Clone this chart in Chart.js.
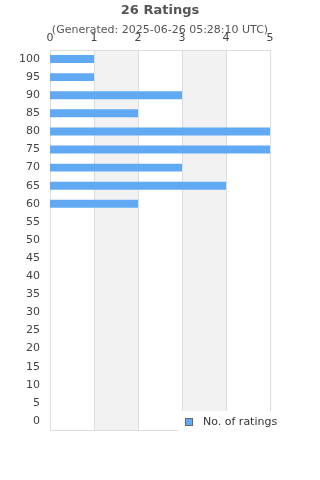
<!DOCTYPE html>
<html><head><meta charset="utf-8">
<script src="https://cdn.jsdelivr.net/npm/chart.js@4/dist/chart.umd.min.js"></script>
<style>html,body{margin:0;padding:0;background:#fff}#wrap{width:320px;height:480px}</style>
</head><body><div id="wrap"><canvas id="c" width="320" height="480"></canvas></div>
<script>
const titleText = "26 Ratings";
const subtitleText = "(Generated: 2025-06-26 05:28:10 UTC)";
const categories = ["100","95","90","85","80","75","70","65","60","55","50","45","40","35","30","25","20","15","10","5","0"];
const ratings = [1,1,3,2,5,5,3,4,2,0,0,0,0,0,0,0,0,0,0,0,0];
const seriesName = "No. of ratings";
const xTicks = [0,1,2,3,4,5];
const shadedBands = [[1,2],[3,4]];

const FONT = "'DejaVu Sans', sans-serif";
const barColor = "#62a9f4";

const deco = {
  id: 'deco',
  beforeDatasetsDraw(chart) {
    const {ctx, chartArea: a, scales: {x}} = chart;
    ctx.save();
    ctx.fillStyle = '#f2f2f2';
    shadedBands.forEach(([s,e]) => {
      const x0 = x.getPixelForValue(s), x1 = x.getPixelForValue(e);
      ctx.fillRect(x0, a.top, x1 - x0, a.bottom - a.top);
    });
    ctx.strokeStyle = '#dddddd';
    ctx.lineWidth = 1;
    xTicks.forEach(v => {
      const px = Math.round(x.getPixelForValue(v)) + 0.5;
      ctx.beginPath(); ctx.moveTo(px, a.top); ctx.lineTo(px, a.bottom); ctx.stroke();
    });
    ctx.strokeRect(Math.round(a.left)+0.5, Math.round(a.top)+0.5, Math.round(a.right-a.left), Math.round(a.bottom-a.top));
    ctx.restore();
  },
  afterDraw(chart) {
    const {ctx} = chart;
    ctx.save();
    ctx.fillStyle = '#555';
    ctx.textAlign = 'center';
    ctx.textBaseline = 'middle';
    ctx.font = "bold 13px " + FONT;
    ctx.fillText(titleText, 160, 11);
    ctx.font = "11px " + FONT;
    ctx.fillText(subtitleText, 160, 30);
    // legend
    ctx.fillStyle = '#fff';
    ctx.fillRect(178, 411, 142, 30);
    ctx.fillStyle = barColor;
    ctx.fillRect(185.5, 418.5, 7, 7);
    ctx.strokeStyle = '#666';
    ctx.lineWidth = 1;
    ctx.strokeRect(185.5, 418.5, 7, 7);
    ctx.fillStyle = '#333';
    ctx.textAlign = 'left';
    ctx.font = "11px " + FONT;
    ctx.fillText(seriesName, 203, 422);
    ctx.restore();
  }
};

new Chart(document.getElementById('c'), {
  type: 'bar',
  data: {
    labels: categories,
    datasets: [{
      label: seriesName,
      data: ratings,
      backgroundColor: barColor,
      borderWidth: 0,
      categoryPercentage: 1,
      barPercentage: 0.44
    }]
  },
  options: {
    indexAxis: 'y',
    responsive: false,
    animation: false,
    devicePixelRatio: 1,
    layout: {padding: {left: 0, right: 50, top: 0, bottom: 50}},
    plugins: {legend: {display: false}, title: {display: false}, tooltip: {enabled: false}},
    scales: {
      x: {
        position: 'top', min: 0, max: 5,
        ticks: {stepSize: 1, color: '#444', font: {family: FONT, size: 11}, padding: 5},
        grid: {display: false, drawTicks: false},
        border: {display: false},
        afterFit(s) { s.height = 50; }
      },
      y: {
        ticks: {color: '#444', font: {family: FONT, size: 11}, padding: 10, autoSkip: false},
        grid: {display: false, drawTicks: false},
        border: {display: false},
        afterFit(s) { s.width = 50; }
      }
    }
  },
  plugins: [deco]
});
</script></body></html>
